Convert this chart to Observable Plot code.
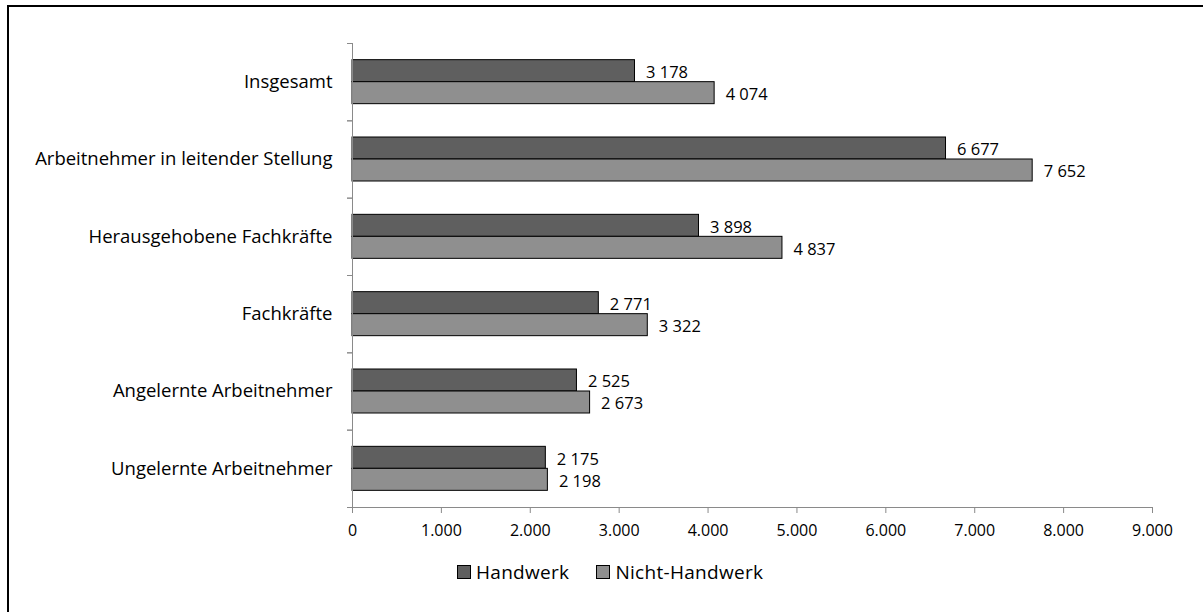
<!DOCTYPE html>
<html>
<head>
<meta charset="utf-8">
<script src="https://cdn.jsdelivr.net/npm/d3@7"></script>
<script src="https://cdn.jsdelivr.net/npm/@observablehq/plot@0.6"></script>
<style>
  html, body { margin: 0; padding: 0; background: #fff; }
  body { width: 1203px; height: 612px; overflow: hidden; position: relative; font-family: "Open Sans", sans-serif; }
  #frame { position: absolute; left: 7px; top: 5px; width: 1400px; height: 800px;
           border-top: 2px solid #000; border-left: 2px solid #000; }
  #chart { position: absolute; left: 0; top: 0; }
  #legend { position: absolute; left: 457px; top: 559px; display: flex; align-items: center;
            font-family: "Open Sans", sans-serif; font-size: 19px; letter-spacing: 0.3px; color: #000; }
  #legend .item { display: flex; align-items: center; margin-right: 27px; }
  #legend .sw { width: 14px; height: 14px; border: 1px solid #000; box-sizing: border-box; margin-right: 5px; }
</style>
</head>
<body>
<div id="frame"></div>
<div id="chart"></div>
<div id="legend"></div>
<script>
// Durchschnittliche Bruttomonatsverdienste nach Leistungsgruppe
const categories = [
  "Insgesamt",
  "Arbeitnehmer in leitender Stellung",
  "Herausgehobene Fachkräfte",
  "Fachkräfte",
  "Angelernte Arbeitnehmer",
  "Ungelernte Arbeitnehmer"
];
const handwerk      = [3178, 6677, 3898, 2771, 2525, 2175];
const nichtHandwerk = [4074, 7652, 4837, 3322, 2673, 2198];
const seriesNames  = ["Handwerk", "Nicht-Handwerk"];
const seriesColors = ["#5f5f5f", "#8f8f8f"];
const xTicks = [0, 1000, 2000, 3000, 4000, 5000, 6000, 7000, 8000, 9000];

const rowsH = categories.map((c, i) => ({category: c, series: seriesNames[0], value: handwerk[i]}));
const rowsN = categories.map((c, i) => ({category: c, series: seriesNames[1], value: nichtHandwerk[i]}));

// Achse: Punkt als Tausendertrenner, Balkenwerte: Leerzeichen
const axisFmt  = d3.formatLocale({decimal: ",", thousands: ".", grouping: [3], currency: ["", " €"]}).format(",d");
const valueFmt = d3.formatLocale({decimal: ",", thousands: " ", grouping: [3], currency: ["", " €"]}).format(",d");

const W = 1203, H = 545;
const mTop = 43, mBottom = 38, mLeft = 352, mRight = 51;
const band = (H - mTop - mBottom) / categories.length;   // Höhe je Leistungsgruppe
const barH = 22;                                          // Höhe eines Balkens
const gap = (band - 2 * barH) / 2;
const gridColor = "#8a8a8a";

const chart = Plot.plot({
  width: W,
  height: H,
  marginTop: mTop,
  marginBottom: mBottom,
  marginLeft: mLeft,
  marginRight: mRight,
  style: {fontFamily: "'Open Sans', sans-serif", fontSize: "15px", color: "#000", background: "transparent"},
  x: {domain: [0, 9000]},
  y: {domain: categories, padding: 0, round: false},
  color: {domain: seriesNames, range: seriesColors},
  marks: [
    // Balken: Handwerk oben, Nicht-Handwerk unten in jeder Gruppe
    Plot.barX(rowsH, {x: "value", y: "category", fill: "series", stroke: "#000", strokeWidth: 1,
      insetTop: gap, insetBottom: band - gap - barH}),
    Plot.barX(rowsN, {x: "value", y: "category", fill: "series", stroke: "#000", strokeWidth: 1,
      insetTop: gap + barH, insetBottom: gap}),
    // Werte rechts neben den Balken
    Plot.text(rowsH, {x: "value", y: "category", text: d => valueFmt(d.value),
      textAnchor: "start", dx: 11, dy: -barH / 2 + 1.5, fontSize: 16.5}),
    Plot.text(rowsN, {x: "value", y: "category", text: d => valueFmt(d.value),
      textAnchor: "start", dx: 11, dy: barH / 2 + 1.5, fontSize: 16.5}),
    // Achsenlinien
    Plot.ruleX([0], {stroke: gridColor}),
    Plot.frame({anchor: "bottom", stroke: gridColor}),
    // Teilstriche der Kategorienachse an den Gruppengrenzen
    Plot.axisY({tickSize: 5, fill: "none", stroke: gridColor, dy: -band / 2, label: null}),
    Plot.axisY({tickSize: 5, fill: "none", stroke: gridColor, dy: band / 2, label: null}),
    // Kategoriebeschriftungen
    Plot.axisY({tickSize: 0, tickPadding: 20, fontSize: 18.5, label: null}),
    // Wertachse
    Plot.axisX({ticks: xTicks, tickFormat: axisFmt, tickSize: 6, tickPadding: 11,
      stroke: gridColor, fill: "#000", fontSize: 16, label: null})
  ]
});
document.getElementById("chart").appendChild(chart);

// Legende unter dem Diagramm
const color = chart.scale("color");
const legend = d3.select("#legend");
color.domain.forEach((name, i) => {
  const item = legend.append("div").attr("class", "item");
  item.append("div").attr("class", "sw").style("background", color.range[i]);
  item.append("span").text(name);
});
</script>
</body>
</html>
